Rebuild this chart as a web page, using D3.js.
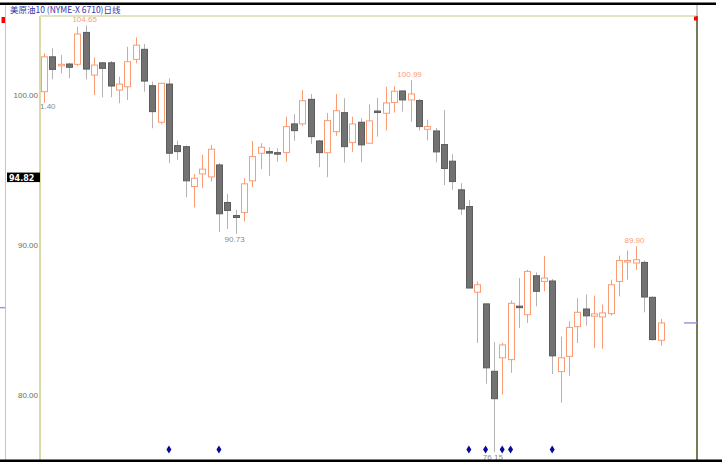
<!DOCTYPE html>
<html>
<head>
<meta charset="utf-8">
<script src="https://cdn.jsdelivr.net/npm/d3@7"></script>
<style>
body { margin: 0; background: #fff; }
svg { display: block; }
</style>
</head>
<body>
<div id="chart"></div>
<script>
// daily OHLC
const opens = [100.22, 102.55, 101.95, 102.07, 102.05, 104.18, 101.33, 102.15, 102.15, 100.33,
  100.55, 102.38, 103.05, 100.62, 98.18, 100.73, 96.62, 96.55, 93.89, 94.73,
  94.53, 95.33, 92.82, 91.95, 92.15, 94.27, 96.11, 96.22, 96.15, 96.15,
  98.07, 98.07, 99.71, 96.93, 96.15, 97.55, 98.82, 96.82, 98.18, 96.78,
  98.93, 98.78, 99.5, 100.27, 99.67, 99.63, 97.71, 97.6, 96.69, 95.58,
  93.67, 92.55, 86.83, 86.05, 81.55, 82.45, 82.33, 85.9, 85.33, 87.93,
  87.55, 87.58, 81.53, 82.55, 84.53, 85.71, 85.23, 85.18, 85.4, 87.55,
  88.87, 88.78, 88.82, 86.49, 83.62];
const highs = [102.78, 103.11, 102.67, 102.15, 104.55, 104.65, 102.51, 102.2, 102.27, 101.22,
  103.22, 103.85, 103.4, 100.89, 100.82, 101.11, 96.95, 96.62, 94.73, 96.0,
  96.67, 95.47, 93.4, 92.33, 94.44, 96.93, 96.78, 96.51, 96.45, 98.55,
  98.73, 100.33, 100.07, 97.0, 98.8, 100.07, 99.78, 98.55, 98.45, 99.38,
  99.8, 100.55, 100.58, 100.3, 100.99, 99.73, 98.35, 97.8, 99.0, 96.05,
  94.11, 93.0, 87.55, 86.1, 83.5, 83.44, 86.28, 87.78, 88.33, 88.15,
  89.25, 87.71, 83.87, 84.89, 86.45, 86.67, 86.6, 86.0, 87.67, 89.27,
  89.62, 89.9, 88.95, 86.55, 85.05];
const lows = [99.47, 101.05, 101.45, 101.11, 101.93, 101.05, 100.0, 99.85, 99.85, 99.45,
  99.67, 102.11, 100.22, 97.78, 98.05, 95.45, 95.67, 93.18, 92.49, 93.8,
  94.22, 90.85, 91.05, 90.73, 91.55, 93.85, 95.05, 94.6, 95.55, 95.55,
  96.95, 97.93, 96.73, 95.18, 94.51, 97.27, 95.49, 96.2, 95.51, 96.78,
  97.22, 97.63, 98.83, 98.89, 98.22, 97.63, 96.97, 95.5, 93.98, 93.67,
  92.0, 87.11, 83.44, 80.72, 76.15, 80.0, 81.45, 84.44, 84.78, 85.89,
  86.89, 81.37, 79.45, 81.25, 83.44, 84.6, 83.11, 83.05, 85.27, 86.55,
  87.67, 88.33, 85.49, 83.6, 83.27];
const closes = [102.55, 101.71, 102.05, 101.85, 104.07, 101.73, 102.0, 101.78, 100.6, 100.73,
  102.22, 103.33, 100.93, 98.89, 100.78, 96.11, 96.22, 94.27, 94.44, 95.05,
  96.38, 92.07, 92.29, 91.82, 94.07, 95.89, 96.51, 96.13, 96.09, 97.89,
  97.62, 99.62, 97.22, 96.15, 98.29, 98.95, 96.55, 98.07, 96.67, 98.27,
  98.87, 99.47, 100.25, 99.67, 100.07, 97.89, 97.89, 96.2, 95.09, 94.22,
  92.39, 87.11, 87.33, 81.78, 79.72, 83.31, 86.09, 85.8, 88.22, 86.89,
  87.78, 82.58, 82.45, 84.48, 85.49, 85.25, 85.38, 85.45, 87.33, 88.95,
  88.95, 89.0, 86.51, 83.67, 84.78];

const yTicks = [80, 90, 100];
const signalBars = [15, 21, 51, 53, 55, 56, 61];   // blue diamonds
const highMarks = [5, 44, 71];                       // labelled highs
const lowMarks = [23, 54];                           // labelled lows
const cursorPrice = 94.82;
const leftTickPrice = 85.8;
const clippedLabel = '1.40';
const title = '美原油10 (NYME-X 6710)日线';

const width = 722, height = 462;
const plotLeft = 40, plotRight = 697, plotTop = 16, plotBottom = 460;

const svg = d3.select('#chart').append('svg')
  .attr('width', width)
  .attr('height', height);

const n = opens.length;
const x = d3.scalePoint()
  .domain(d3.range(n))
  .range([44, 660.5]);
const bodyW = x.step() * 0.72;

const y = d3.scaleLinear()
  .domain([80, 100])
  .range([394.5, 95]);

svg.append('defs').append('clipPath').attr('id', 'plot')
  .append('rect')
  .attr('x', plotLeft).attr('y', plotTop)
  .attr('width', plotRight - plotLeft).attr('height', plotBottom - plotTop);

// frame
svg.append('line')
  .attr('x1', 5.5).attr('x2', 5.5).attr('y1', 5).attr('y2', height)
  .attr('stroke', '#c4c4c4');
svg.append('line')
  .attr('x1', plotLeft).attr('x2', plotLeft).attr('y1', plotTop).attr('y2', height)
  .attr('stroke', '#cfcf8c').attr('stroke-width', 1.5);
svg.append('line')
  .attr('x1', plotLeft).attr('x2', plotRight).attr('y1', plotTop).attr('y2', plotTop)
  .attr('stroke', '#e2e2c4').attr('stroke-width', 2);
svg.append('line')
  .attr('x1', plotRight).attr('x2', plotRight).attr('y1', 5).attr('y2', plotTop)
  .attr('stroke', '#9a9a9a');
svg.append('line')
  .attr('x1', plotRight).attr('x2', plotRight).attr('y1', plotTop).attr('y2', height)
  .attr('stroke', '#4e4e20').attr('stroke-width', 1.5);

svg.append('rect').attr('x', 694).attr('y', 16.5).attr('width', 3.5).attr('height', 4).attr('fill', '#ff0000');
svg.append('rect').attr('x', 1.5).attr('y', 17).attr('width', 3.5).attr('height', 6).attr('fill', '#ff0000');

svg.append('text')
  .attr('x', 10).attr('y', 12.5)
  .attr('font-family', '"Noto Sans CJK SC", sans-serif')
  .attr('font-size', 8.5)
  .attr('fill', '#3434a8')
  .text(title);

// y axis labels
const yAxis = d3.axisLeft(y)
  .tickValues(yTicks)
  .tickFormat(d3.format('.2f'))
  .tickSize(0)
  .tickPadding(0);
const ga = svg.append('g')
  .attr('transform', `translate(${plotLeft - 2},0)`)
  .call(yAxis);
ga.select('.domain').remove();
ga.selectAll('text')
  .attr('font-family', '"Liberation Sans", Arial, sans-serif')
  .attr('font-size', 8)
  .attr('fill', '#707048');

// side markers
svg.append('line')
  .attr('x1', 0).attr('x2', 5).attr('y1', y(leftTickPrice)).attr('y2', y(leftTickPrice))
  .attr('stroke', '#9a9ad8').attr('stroke-width', 1.5);
svg.append('line')
  .attr('x1', 684).attr('x2', plotRight).attr('y1', y(closes[n - 1])).attr('y2', y(closes[n - 1]))
  .attr('stroke', '#9a9ad8').attr('stroke-width', 1.5);

// cursor price box
const cy = y(cursorPrice);
svg.append('rect')
  .attr('x', 7).attr('y', cy).attr('width', plotLeft - 7).attr('height', 9.5)
  .attr('fill', '#000');
svg.append('text')
  .attr('x', 9).attr('y', cy + 8)
  .attr('font-family', '"DejaVu Sans", sans-serif')
  .attr('font-size', 8)
  .attr('font-weight', 'bold')
  .attr('fill', '#fff')
  .text(cursorPrice.toFixed(2));

// candles
const plot = svg.append('g').attr('clip-path', 'url(#plot)');
const data = d3.range(n).map(i => ({
  i, o: opens[i], h: highs[i], l: lows[i], c: closes[i], up: closes[i] >= opens[i]
}));
const upColor = '#fb9c74';
const downFill = '#727272';

plot.selectAll('line.wick')
  .data(data)
  .enter()
  .append('line')
  .attr('class', 'wick')
  .attr('x1', d => Math.round(x(d.i)) + 0.5)
  .attr('x2', d => Math.round(x(d.i)) + 0.5)
  .attr('y1', d => y(d.h))
  .attr('y2', d => y(d.l))
  .attr('stroke', d => d.up ? upColor : '#b4b4b4')
  .attr('stroke-width', 1);

plot.selectAll('rect.body')
  .data(data)
  .enter()
  .append('rect')
  .attr('class', 'body')
  .attr('x', d => Math.round(x(d.i) - bodyW / 2) + 0.5)
  .attr('y', d => y(Math.max(d.o, d.c)))
  .attr('width', Math.round(bodyW))
  .attr('height', d => Math.max(1.5, Math.abs(y(d.o) - y(d.c))))
  .attr('fill', d => d.up ? '#fff' : downFill)
  .attr('stroke', d => d.up ? upColor : '#5c5c5c')
  .attr('stroke-width', 1);

// high / low labels
plot.selectAll('text.hi')
  .data(highMarks)
  .enter()
  .append('text')
  .attr('x', i => x(i) - 1)
  .attr('y', i => y(highs[i]) - 3)
  .attr('text-anchor', 'middle')
  .attr('font-family', '"Liberation Sans", Arial, sans-serif')
  .attr('font-size', 8)
  .attr('fill', upColor)
  .text(i => highs[i].toFixed(2));

plot.selectAll('text.lo')
  .data(lowMarks)
  .enter()
  .append('text')
  .attr('x', i => x(i) - 1)
  .attr('y', i => y(lows[i]) + 8)
  .attr('text-anchor', 'middle')
  .attr('font-family', '"Liberation Sans", Arial, sans-serif')
  .attr('font-size', 8)
  .attr('fill', '#8a8a8a')
  .text(i => lows[i].toFixed(2));

plot.append('text')
  .attr('x', plotLeft)
  .attr('y', y(lows[0]) + 6)
  .attr('font-family', '"Liberation Sans", Arial, sans-serif')
  .attr('font-size', 8)
  .attr('fill', '#8a8a8a')
  .text(clippedLabel);

// signal diamonds
plot.selectAll('path.sig')
  .data(signalBars)
  .enter()
  .append('path')
  .attr('d', i => {
    const cx = x(i), c = 449.5;
    return `M${cx},${c - 4}L${cx + 2.5},${c}L${cx},${c + 4}L${cx - 2.5},${c}Z`;
  })
  .attr('fill', '#0a0a9a');

// black rules top and bottom
svg.append('rect').attr('x', 0).attr('y', 2.5).attr('width', 716).attr('height', 2.5).attr('fill', '#000');
svg.append('rect').attr('x', 0).attr('y', 459.5).attr('width', width).attr('height', 3).attr('fill', '#000');
</script>
</body>
</html>
